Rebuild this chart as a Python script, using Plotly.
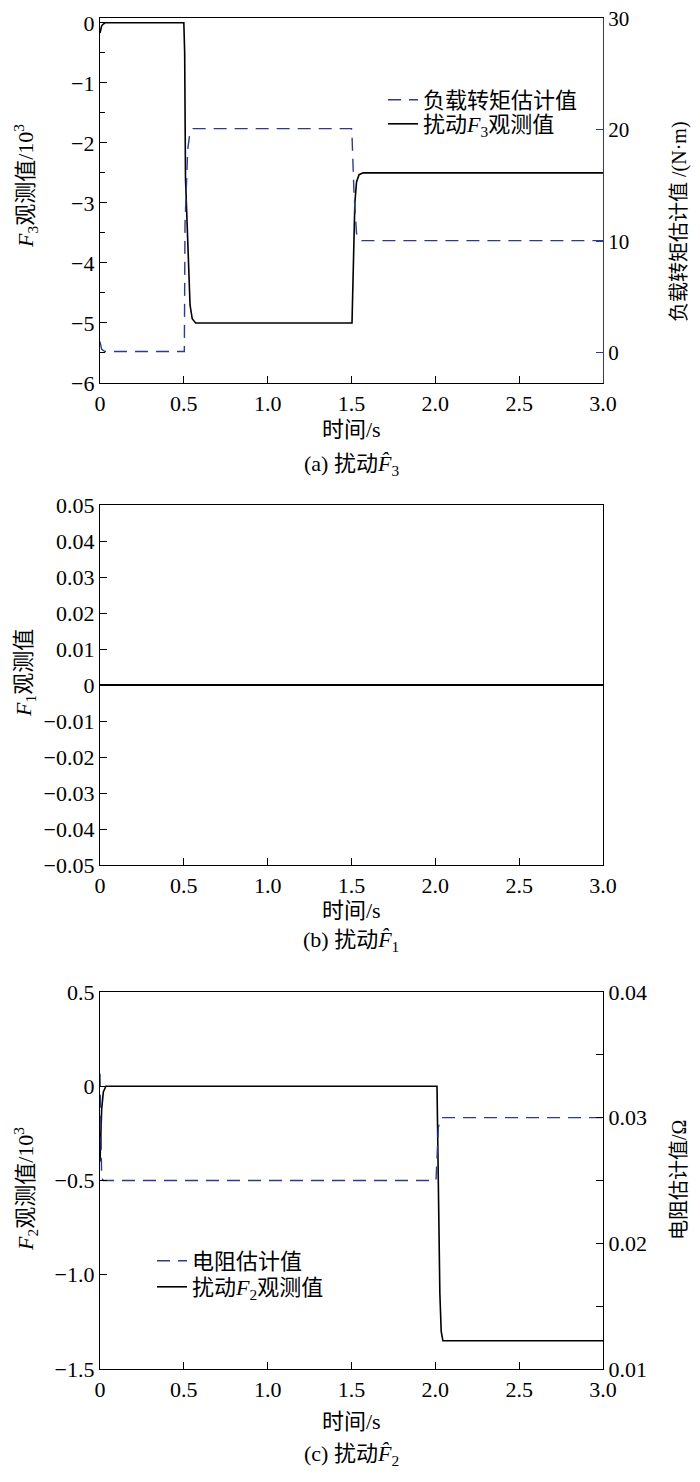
import plotly.graph_objects as go

# ---------------- data ----------------
# Panel (a)
t_F3 = [0, 0.005, 0.01, 0.02, 0.03, 0.5, 0.505, 0.51, 0.526, 0.537, 0.55, 0.57,
        1.5, 1.503, 1.52, 1.53, 1.545, 1.57, 3.0]
F3 = [-0.17, -0.09, -0.05, -0.02, 0.0, 0.0, -0.5, -2.6, -4.0, -4.7, -4.93, -5.0,
      -5.0, -5.0, -3.0, -2.65, -2.53, -2.5, -2.5]
t_TL = [0, 0.01, 0.03, 0.5, 0.503, 0.507, 0.523, 0.535, 0.555,
        1.5, 1.503, 1.515, 1.53, 1.545, 1.56, 3.0]
TL = [1.0, 0.3, 0.1, 0.1, 0.1, 11.5, 18.2, 19.6, 20.1,
      20.1, 19.5, 14.3, 10.7, 10.15, 10.05, 10.05]

# Panel (b)
t_F1 = [0, 0.5, 1.0, 1.5, 2.0, 2.5, 3.0]
F1 = [0, 0, 0, 0, 0, 0, 0]

# Panel (c)
t_F2 = [0, 0.005, 0.01, 0.02, 0.035, 2.0, 2.01, 2.027, 2.035, 2.045, 3.0]
F2 = [-0.4, -0.3, -0.12, -0.03, 0.0, 0.0, 0.0, -1.1, -1.3, -1.35, -1.35]
t_R = [0, 0.005, 0.01, 0.02, 2.0, 2.004, 2.018, 2.028, 2.037, 3.0]
R = [0.0335, 0.027, 0.0252, 0.025, 0.025, 0.025, 0.0292, 0.0298, 0.03, 0.03]

x_ticks = [0, 0.5, 1.0, 1.5, 2.0, 2.5, 3.0]
x_ticktext = ["0", "0.5", "1.0", "1.5", "2.0", "2.5", "3.0"]
ya_ticks = [0, -1, -2, -3, -4, -5, -6]
ya_text = ["0", "\u22121", "\u22122", "\u22123", "\u22124", "\u22125", "\u22126"]
ya2_ticks = [0, 10, 20, 30]
yb_ticks = [0.05, 0.04, 0.03, 0.02, 0.01, 0, -0.01, -0.02, -0.03, -0.04, -0.05]
yb_text = ["0.05", "0.04", "0.03", "0.02", "0.01", "0", "\u22120.01", "\u22120.02",
           "\u22120.03", "\u22120.04", "\u22120.05"]
yc_ticks = [0.5, 0, -0.5, -1.0, -1.5]
yc_text = ["0.5", "0", "\u22120.5", "\u22121.0", "\u22121.5"]
yc2_ticks = [0.01, 0.02, 0.03, 0.04]
yc2_text = ["0.01", "0.02", "0.03", "0.04"]

# ---------------- style ----------------
OFF = 8                      # default page body margin
W, H = 700 - 2 * OFF, 1482 - 2 * OFF
BLUE = "#2e3a8c"
FONT = "Liberation Serif, Noto Sans CJK SC"
FS = 22
LFS = 22
DASH = "13px,8px"

def px_x(p):
    return (p - OFF) / W

def px_y(p):
    return 1 - (p - OFF) / H

XD = [px_x(100), px_x(603)]
dom_a = [px_y(383), px_y(18)]
dom_b = [px_y(865), px_y(505)]
dom_c = [px_y(1369), px_y(992)]

fig = go.Figure()

# Panel a
fig.add_trace(go.Scatter(x=t_TL, y=TL, mode="lines", name="负载转矩估计值",
                         line=dict(color=BLUE, width=1.4, dash=DASH),
                         xaxis="x", yaxis="y2", legend="legend"))
fig.add_trace(go.Scatter(x=t_F3, y=F3, mode="lines",
                         name="扰动<i>F</i><sub>3</sub>观测值",
                         line=dict(color="black", width=1.6),
                         xaxis="x", yaxis="y", legend="legend3"))
# Panel b
fig.add_trace(go.Scatter(x=t_F1, y=F1, mode="lines", showlegend=False,
                         line=dict(color="black", width=2.0),
                         xaxis="x2", yaxis="y3"))
# Panel c
fig.add_trace(go.Scatter(x=t_R, y=R, mode="lines", name="电阻估计值",
                         line=dict(color=BLUE, width=1.4, dash=DASH),
                         xaxis="x3", yaxis="y5", legend="legend2"))
fig.add_trace(go.Scatter(x=t_F2, y=F2, mode="lines",
                         name="扰动<i>F</i><sub>2</sub>观测值",
                         line=dict(color="black", width=1.6),
                         xaxis="x3", yaxis="y4", legend="legend4"))

common = dict(showgrid=False, zeroline=False, showline=True, linecolor="black",
              linewidth=1.3, ticks="inside", ticklen=7, tickwidth=1.2,
              tickcolor="black", automargin=False, ticklabeloverflow="allow",
              tickfont=dict(family=FONT, size=FS, color="black"))

def xax(anchor):
    return dict(common, domain=XD, anchor=anchor, range=[0, 3.0],
                tickmode="array", tickvals=x_ticks, ticktext=x_ticktext,
                mirror=True)

def leg(x, y_top):
    return dict(x=px_x(x), y=px_y(y_top), xanchor="left", yanchor="top",
                bgcolor="rgba(0,0,0,0)", font=dict(family=FONT, size=LFS),
                tracegroupgap=0, itemwidth=30)

layout = dict(
    width=W, height=H,
    margin=dict(l=0, r=0, t=0, b=0, autoexpand=False),
    paper_bgcolor="white", plot_bgcolor="white",
    font=dict(family=FONT, size=FS, color="black"),
    xaxis=xax("y"),
    xaxis2=xax("y3"),
    xaxis3=xax("y4"),
    yaxis=dict(common, domain=dom_a, anchor="x", range=[-6, 0.08],
               tickmode="array", tickvals=ya_ticks, ticktext=ya_text,
               minor=dict(tickvals=[-0.5, -1.5, -2.5, -3.5, -4.5, -5.5],
                          ticks="inside", ticklen=5, tickcolor="black")),
    yaxis2=dict(common, overlaying="y", side="right", anchor="x",
                range=[-2.72, 30.02], tickmode="array", tickvals=ya2_ticks,
                linecolor=BLUE, tickcolor=BLUE,
                tickfont=dict(family=FONT, size=21, color="black")),
    yaxis3=dict(common, domain=dom_b, anchor="x2", range=[-0.05, 0.05],
                tickmode="array", tickvals=yb_ticks, ticktext=yb_text,
                mirror=True),
    yaxis4=dict(common, domain=dom_c, anchor="x3", range=[-1.5, 0.5],
                tickmode="array", tickvals=yc_ticks, ticktext=yc_text),
    yaxis5=dict(common, overlaying="y4", side="right", anchor="x3",
                range=[0.01, 0.04], tickmode="array", tickvals=yc2_ticks,
                ticktext=yc2_text,
                minor=dict(tickvals=[0.015, 0.025, 0.035], ticks="inside",
                           ticklen=7, tickcolor="black")),
    legend=leg(383, 79),
    legend3=leg(383, 103),
    legend2=leg(152, 1240),
    legend4=leg(152, 1266),
)
fig.update_layout(**layout)

ann = []
def text(x, y, s, angle=0, size=FS):
    ann.append(dict(x=px_x(x), y=px_y(y), xref="paper", yref="paper", text=s,
                    showarrow=False, xanchor="center", yanchor="middle",
                    textangle=angle, font=dict(family=FONT, size=size, color="black")))

cx = 351.5
# panel a
text(cx, 430, "时间/s")
text(cx, 465, "(a) 扰动<i>F\u0302</i><sub>3</sub>")
text(25, 186, "<i>F</i><sub>3</sub>观测值/10<sup>3</sup>", angle=-90)
text(679, 222, "负载转矩估计值 /(N·m)", angle=-90, size=20)
# panel b
text(cx, 910, "时间/s")
text(cx, 941, "(b) 扰动<i>F\u0302</i><sub>1</sub>")
text(25, 673, "<i>F</i><sub>1</sub>观测值", angle=-90)
# panel c
text(cx, 1421, "时间/s")
text(cx, 1455, "(c) 扰动<i>F\u0302</i><sub>2</sub>")
text(25, 1189, "<i>F</i><sub>2</sub>观测值/10<sup>3</sup>", angle=-90)
text(679, 1180, "电阻估计值/Ω", angle=-90, size=20)

fig.update_layout(annotations=ann)
fig.write_html("out.html")
